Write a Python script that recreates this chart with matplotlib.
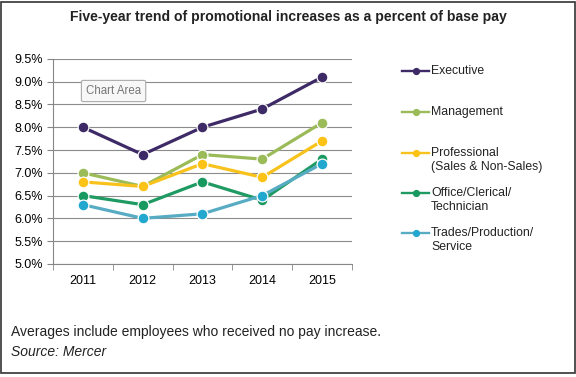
import matplotlib.pyplot as plt
from matplotlib.patches import Rectangle
from matplotlib.lines import Line2D

plt.rcParams['font.family'] = ['Liberation Sans', 'DejaVu Sans']

years = ['2011', '2012', '2013', '2014', '2015']
executive = [8.0, 7.4, 8.0, 8.4, 9.1]
management = [7.0, 6.7, 7.4, 7.3, 8.1]
professional = [6.8, 6.7, 7.2, 6.9, 7.7]
office = [6.5, 6.3, 6.8, 6.4, 7.3]
trades = [6.3, 6.0, 6.1, 6.5, 7.2]

labels = ['Executive', 'Management', 'Professional\n(Sales & Non-Sales)',
          'Office/Clerical/\nTechnician', 'Trades/Production/\nService']
line_colors = ['#3d2a66', '#9bbb59', '#f8c21c', '#1f9a62', '#57acc3']
dot_colors = ['#3d2a66', '#9bbb59', '#fcc316', '#18995f', '#22a7cf']
series = [executive, management, professional, office, trades]

W, H = 576, 377
fig = plt.figure(figsize=(W / 100, H / 100), dpi=100)
ax = fig.add_axes([0.092, 0.300, 0.519, 0.5438])

x = list(range(len(years)))
for vals, lab, lc, dc in zip(series, labels, line_colors, dot_colors):
    ax.plot(x, vals, color=lc, lw=2.3, marker='o', ms=7.8,
            markerfacecolor=dc, markeredgecolor='white',
            markeredgewidth=0.9, label=lab, zorder=3)

ax.set_xlim(-0.5, 4.5)
ax.set_ylim(5.0, 9.5)
ax.set_yticks([5.0 + 0.5 * i for i in range(10)])
ax.set_yticklabels(['%.1f%%' % (5.0 + 0.5 * i) for i in range(10)])
ax.set_xticks(x)
ax.set_xticklabels(years)
ax.set_xticks([i - 0.5 for i in range(6)], minor=True)
ax.tick_params(axis='x', which='major', length=0, pad=8, labelsize=9)
ax.tick_params(axis='x', which='minor', length=4, color='#868686')
ax.tick_params(axis='y', length=4, color='#868686', labelsize=9, pad=3)
ax.grid(axis='y', color='#8c8c8c', lw=0.8)
ax.set_axisbelow(True)
for s in ['top', 'right']:
    ax.spines[s].set_visible(False)
for s in ['left', 'bottom']:
    ax.spines[s].set_color('#868686')

# legend drawn by hand: handle sits on the first line of each label
leg_y = [71, 112, 153, 193, 233]
for yy, lab, lc, dc in zip(leg_y, labels, line_colors, dot_colors):
    fy = 1 - yy / H
    fig.add_artist(Line2D([402 / W, 429 / W], [fy, fy], transform=fig.transFigure,
                          color=lc, lw=1.7))
    fig.add_artist(Line2D([415.5 / W], [fy], transform=fig.transFigure, marker='o',
                          ms=4.2, color=dc, markeredgecolor=dc))
    fig.text(431 / W, fy + 6.5 / H, lab, ha='left', va='top', fontsize=8.8,
             color='#222222', linespacing=1.3)

fig.text(288 / W, 1 - 17 / H,
         'Five-year trend of promotional increases as a percent of base pay',
         ha='center', va='center', fontsize=10.1, fontweight='bold', color='#222222')
fig.text(11 / W, 1 - 332 / H, 'Averages include employees who received no pay increase.',
         ha='left', va='center', fontsize=10.0, color='#222222')
fig.text(11 / W, 1 - 352 / H, 'Source: Mercer', ha='left', va='center',
         fontsize=10.0, style='italic', color='#222222')

fig.text(86 / W, 1 - 91 / H, 'Chart Area', ha='left', va='center', fontsize=8.3,
         color='#777777',
         bbox=dict(boxstyle='round,pad=0.4,rounding_size=0.15', fc='#f7f7f7',
                   ec='#aaaaaa', lw=0.8))

fig.patches.append(Rectangle((0.002, 0.01), 0.996, 0.985, transform=fig.transFigure,
                             fill=False, ec='#333333', lw=1.2))

fig.savefig('out.png', dpi=100)
